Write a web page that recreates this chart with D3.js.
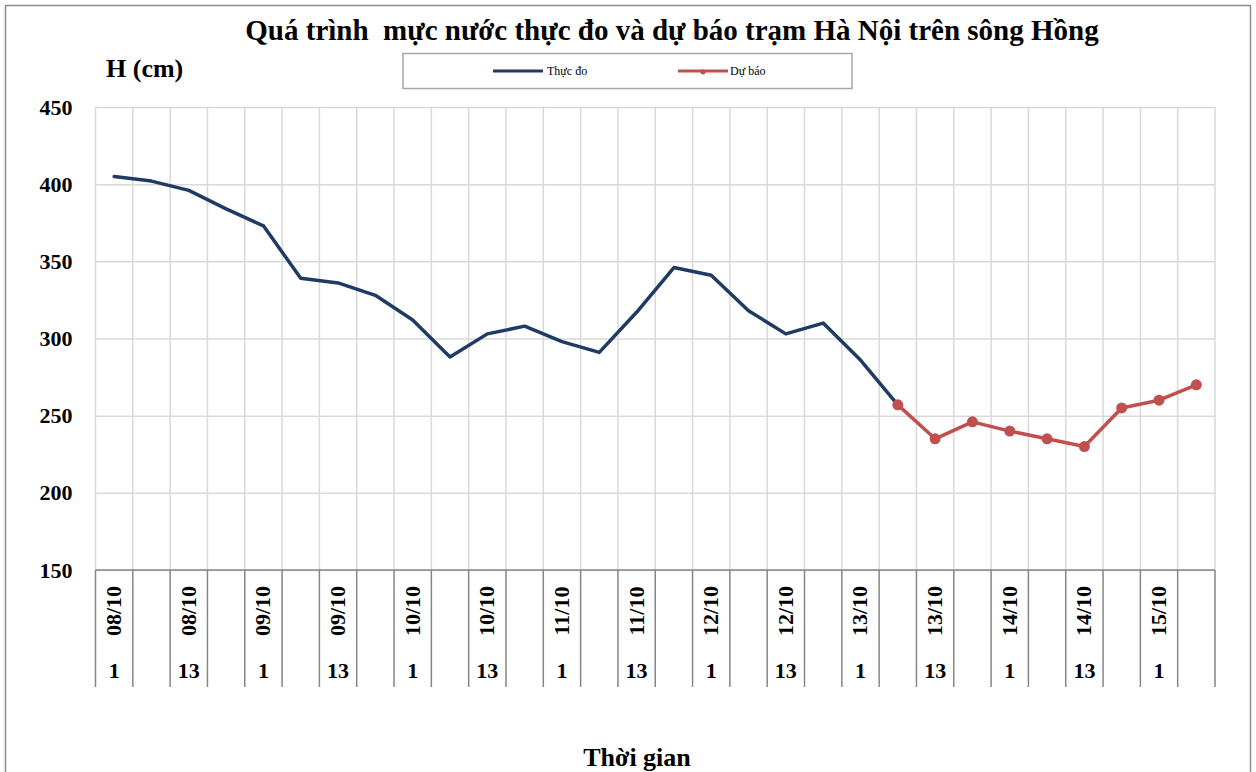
<!DOCTYPE html>
<html>
<head>
<meta charset="utf-8">
<script src="https://cdn.jsdelivr.net/npm/d3@7"></script>
<style>
  html, body { margin: 0; padding: 0; background: #fff; }
  svg { display: block; }
  text { font-family: "Liberation Serif", "Times New Roman", serif; font-weight: bold; fill: #000; }
</style>
</head>
<body>
<svg id="chart" width="1256" height="772"></svg>
<script>
// ---- DATA ----
const titleText = "Quá trình  mực nước thực đo và dự báo trạm Hà Nội trên sông Hồng";
const yTitle = "H (cm)";
const xTitle = "Thời gian";
const seriesNames = ["Thực đo", "Dự báo"];

const dates = ["08/10","08/10","08/10","08/10",
               "09/10","09/10","09/10","09/10",
               "10/10","10/10","10/10","10/10",
               "11/10","11/10","11/10","11/10",
               "12/10","12/10","12/10","12/10",
               "13/10","13/10","13/10","13/10",
               "14/10","14/10","14/10","14/10",
               "15/10","15/10"];
const hours = ["1","7","13","19","1","7","13","19","1","7","13","19",
               "1","7","13","19","1","7","13","19","1","7","13","19",
               "1","7","13","19","1","7"];

const observed = [405, 402, 396, 384, 373, 339, 336, 328, 312, 288, 303, 308,
                  298, 291, 317, 346, 341, 318, 303, 310, 286, 257,
                  null, null, null, null, null, null, null, null];
const forecast = [null, null, null, null, null, null, null, null, null, null, null, null,
                  null, null, null, null, null, null, null, null, null,
                  257, 235, 246, 240, 235, 230, 255, 260, 270];

const yTicks = [150, 200, 250, 300, 350, 400, 450];

// ---- LAYOUT ----
const svg = d3.select("#chart");
const plot = { left: 95.5, right: 1215, top: 107, bottom: 570 };
const colObs = "#1F3B63";
const colFc = "#C0504D";

const cats = dates.map((d, i) => d + " " + hours[i]);
const x = d3.scaleBand().domain(cats).range([plot.left, plot.right]).paddingInner(0).paddingOuter(0);
const y = d3.scaleLinear().domain([150, 450]).range([plot.bottom, plot.top]);
const cx = c => x(c) + x.bandwidth() / 2;

// chart border
svg.append("rect")
  .attr("x", 5.5).attr("y", 5.5).attr("width", 1245).attr("height", 790)
  .attr("fill", "none").attr("stroke", "#8c8c8c").attr("stroke-width", 1.5);

// horizontal gridlines
svg.append("g")
  .attr("transform", `translate(${plot.left},0)`)
  .call(d3.axisLeft(y).tickValues(yTicks).tickSize(-(plot.right - plot.left)).tickFormat(""))
  .call(g => g.select(".domain").remove())
  .call(g => g.selectAll("line").attr("stroke", "#d9d9d9").attr("stroke-width", 1.5));

// vertical gridlines at category boundaries
const boundaries = cats.map(c => x(c)).concat([x(cats[cats.length - 1]) + x.bandwidth()]);
svg.append("g").selectAll("line").data(boundaries).join("line")
  .attr("x1", d => d).attr("x2", d => d)
  .attr("y1", plot.top).attr("y2", plot.bottom)
  .attr("stroke", "#d9d9d9").attr("stroke-width", 1.5);

// y tick labels
svg.append("g")
  .attr("transform", `translate(${plot.left},0)`)
  .call(d3.axisLeft(y).tickValues(yTicks).tickSize(0).tickPadding(23))
  .call(g => g.select(".domain").remove())
  .call(g => g.selectAll("text")
    .style("font-family", "'Liberation Serif', serif")
    .style("font-weight", "bold")
    .style("font-size", "22px")
    .attr("fill", "#000"));

// x axis line and separators
svg.append("line")
  .attr("x1", plot.left).attr("x2", plot.right)
  .attr("y1", plot.bottom).attr("y2", plot.bottom)
  .attr("stroke", "#868686").attr("stroke-width", 1.5);
svg.append("g").selectAll("line").data(boundaries).join("line")
  .attr("x1", d => d).attr("x2", d => d)
  .attr("y1", plot.bottom).attr("y2", 687)
  .attr("stroke", "#868686").attr("stroke-width", 1.5);

// x tick labels (every second category)
const labeled = cats.filter((c, i) => i % 2 === 0);
const xl = svg.append("g");
xl.selectAll("text.date").data(labeled).join("text")
  .attr("class", "date")
  .attr("transform", c => `translate(${cx(c) + 7},611) rotate(-90)`)
  .attr("text-anchor", "middle")
  .style("font-size", "22px")
  .text(c => dates[cats.indexOf(c)]);
xl.selectAll("text.hour").data(labeled).join("text")
  .attr("class", "hour")
  .attr("x", c => cx(c)).attr("y", 678)
  .attr("text-anchor", "middle")
  .style("font-size", "22px")
  .text(c => hours[cats.indexOf(c)]);

// lines
const lineGen = d3.line()
  .defined(d => d.v !== null)
  .x(d => cx(d.c)).y(d => y(d.v));
const obsData = cats.map((c, i) => ({ c, v: observed[i] }));
const fcData = cats.map((c, i) => ({ c, v: forecast[i] }));

svg.append("path").datum(obsData)
  .attr("d", lineGen)
  .attr("fill", "none").attr("stroke", colObs).attr("stroke-width", 3.5)
  .attr("stroke-linejoin", "round").attr("stroke-linecap", "round");

svg.append("path").datum(fcData)
  .attr("d", lineGen)
  .attr("fill", "none").attr("stroke", colFc).attr("stroke-width", 3.5)
  .attr("stroke-linejoin", "round").attr("stroke-linecap", "round");

svg.append("g").selectAll("circle").data(fcData.filter(d => d.v !== null)).join("circle")
  .attr("cx", d => cx(d.c)).attr("cy", d => y(d.v)).attr("r", 5.5)
  .attr("fill", colFc);

// title
svg.append("text")
  .attr("x", 672).attr("y", 40)
  .attr("text-anchor", "middle")
  .style("font-size", "29px")
  .attr("xml:space", "preserve")
  .text(titleText);

// y axis title
svg.append("text")
  .attr("x", 106).attr("y", 77)
  .style("font-size", "26px")
  .text(yTitle);

// x axis title
svg.append("text")
  .attr("x", 637).attr("y", 766)
  .attr("text-anchor", "middle")
  .style("font-size", "26px")
  .text(xTitle);

// legend
const lg = svg.append("g");
lg.append("rect")
  .attr("x", 403).attr("y", 53.5).attr("width", 449).attr("height", 35)
  .attr("fill", "#fff").attr("stroke", "#a6a6a6").attr("stroke-width", 1.5);
lg.append("line").attr("x1", 493).attr("x2", 543).attr("y1", 71).attr("y2", 71)
  .attr("stroke", colObs).attr("stroke-width", 3);
lg.append("text").attr("x", 547).attr("y", 75)
  .style("font-size", "12px").style("font-weight", "normal")
  .text(seriesNames[0]);
lg.append("line").attr("x1", 678).attr("x2", 728).attr("y1", 71).attr("y2", 71)
  .attr("stroke", colFc).attr("stroke-width", 3);
lg.append("circle").attr("cx", 703).attr("cy", 72).attr("r", 2.5).attr("fill", colFc);
lg.append("text").attr("x", 730).attr("y", 75)
  .style("font-size", "12px").style("font-weight", "normal")
  .text(seriesNames[1]);
</script>
</body>
</html>
